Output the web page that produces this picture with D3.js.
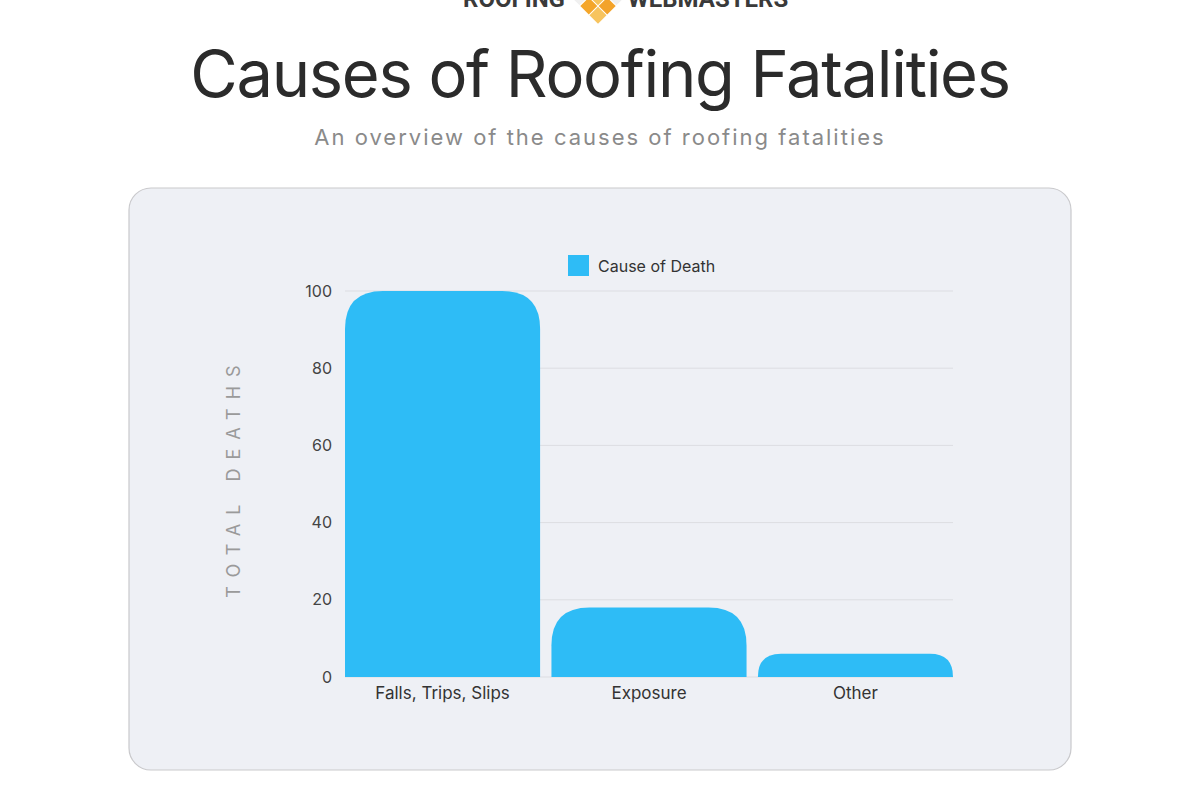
<!DOCTYPE html>
<html><head><meta charset="utf-8">
<script src="https://cdn.jsdelivr.net/npm/d3@7"></script>
<style>body{margin:0;background:#fff;}svg{display:block;}</style>
</head><body>
<svg id="c" width="1200" height="800"></svg>
<script>
const categories = ["Falls, Trips, Slips", "Exposure", "Other"];
const deaths = [100, 18, 6];
const yTicks = [0, 20, 40, 60, 80, 100];
const seriesName = "Cause of Death";

const svg = d3.select("#c");
const font = "Inter, 'Open Sans', sans-serif";

// logo (cut at top, as in the reference)
svg.append("text").attr("x", 514).attr("y", 7).attr("text-anchor", "middle")
  .attr("font-family", "Roboto, sans-serif").attr("font-weight", 700).attr("font-size", 24)
  .attr("fill", "#3a3a3a").text("ROOFING");
svg.append("text").attr("x", 708).attr("y", 7).attr("text-anchor", "middle")
  .attr("font-family", "Roboto, sans-serif").attr("font-weight", 700).attr("font-size", 24)
  .attr("fill", "#3a3a3a").text("WEBMASTERS");
const logo = svg.append("g").attr("transform", "translate(598,-30) rotate(45)");
const cells = [[0,0,"#d9d9d9"],[1,0,"#e3e3e3"],[2,0,"#eeeeee"],[0,1,"#e6e6e6"],[1,1,"#f6c35a"],[2,1,"#f3a32a"],[0,2,"#f0f0f0"],[1,2,"#f4a62a"],[2,2,"#f7c45e"]];
cells.forEach(c => logo.append("rect").attr("x", c[0]*13).attr("y", c[1]*13).attr("width", 12).attr("height", 12).attr("fill", c[2]));

// title
svg.append("text").attr("x", 600).attr("y", 97).attr("text-anchor", "middle")
  .attr("font-family", font).attr("font-size", 65).attr("letter-spacing", -1.3)
  .attr("fill", "#2b2b2b").text("Causes of Roofing Fatalities");
svg.append("text").attr("x", 600).attr("y", 145).attr("text-anchor", "middle")
  .attr("font-family", font).attr("font-size", 22).attr("letter-spacing", 2)
  .attr("fill", "#8a8a8a").text("An overview of the causes of roofing fatalities");

// panel
svg.append("rect").attr("x", 129).attr("y", 188).attr("width", 942).attr("height", 582)
  .attr("rx", 22).attr("fill", "#eef0f5").attr("stroke", "#c9c9cc").attr("stroke-width", 1.2);

const x = d3.scaleBand().domain(categories).range([345, 953]).paddingInner(0.055).paddingOuter(0);
const y = d3.scaleLinear().domain([0, 100]).range([677, 291]);

// grid
svg.append("g").selectAll("line").data(yTicks).join("line")
  .attr("x1", 345).attr("x2", 953).attr("y1", d => y(d)).attr("y2", d => y(d))
  .attr("stroke", "#dcdde2").attr("stroke-width", 1);

// y ticks
const yAxis = svg.append("g").attr("transform", "translate(345,0)")
  .call(d3.axisLeft(y).tickValues(yTicks).tickSize(0).tickPadding(13));
yAxis.select(".domain").remove();
yAxis.selectAll("text").attr("font-family", font).attr("font-size", 16).attr("fill", "#444");

// x axis
const xAxis = svg.append("g").attr("transform", "translate(0,677)")
  .call(d3.axisBottom(x).tickSize(0).tickPadding(10));
xAxis.select(".domain").remove();
xAxis.selectAll("text").attr("font-family", font).attr("font-size", 17).attr("fill", "#333");

// bars with rounded tops
function topRounded(x0, y0, w, h, r) {
  r = Math.min(r, h, w / 2);
  return `M${x0},${y0 + h}V${y0 + r}Q${x0},${y0} ${x0 + r},${y0}H${x0 + w - r}Q${x0 + w},${y0} ${x0 + w},${y0 + r}V${y0 + h}Z`;
}
svg.append("g").selectAll("path").data(categories).join("path")
  .attr("d", (c, i) => topRounded(x(c), y(deaths[i]), x.bandwidth(), y(0) - y(deaths[i]), 38))
  .attr("fill", "#2ebcf6");

// legend
svg.append("rect").attr("x", 568).attr("y", 255).attr("width", 21).attr("height", 21).attr("fill", "#2ebcf6");
svg.append("text").attr("x", 598).attr("y", 272).attr("font-family", font).attr("font-size", 16)
  .attr("fill", "#333").text(seriesName);

// y title
svg.append("text").attr("transform", "translate(240,477) rotate(-90)").attr("text-anchor", "middle")
  .attr("font-family", font).attr("font-size", 18).attr("letter-spacing", 9)
  .attr("fill", "#9a9a9a").text("TOTAL DEATHS");
</script>
</body></html>
